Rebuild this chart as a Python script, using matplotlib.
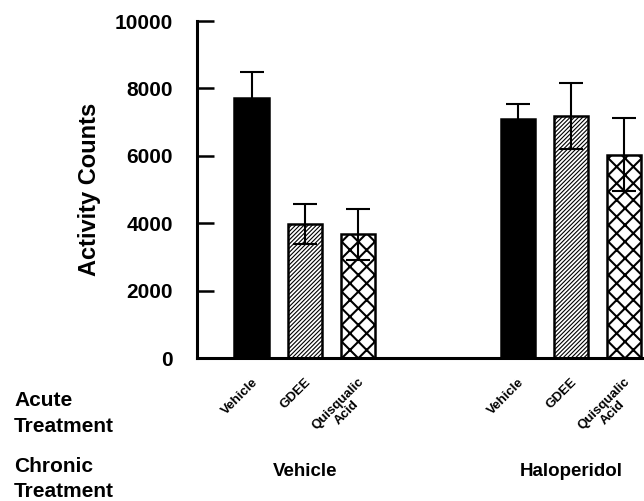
import matplotlib
matplotlib.use("Agg")
import matplotlib.pyplot as plt
import matplotlib.transforms as mtransforms

plt.rcParams['font.family'] = ['Liberation Sans', 'DejaVu Sans']
plt.rcParams['font.weight'] = 'bold'

# Data
acute_labels = ["Vehicle", "GDEE", "Quisqualic\nAcid", "Vehicle", "GDEE", "Quisqualic\nAcid"]
chronic_groups = ["Vehicle", "Haloperidol"]
means = [7720, 3970, 3670, 7100, 7190, 6030]
errors = [760, 600, 750, 440, 980, 1080]
positions = [0, 1, 2, 5, 6, 7]
hatches = [None, "////////", "xx", None, "////////", "xx"]
facecolors = ["black", "white", "white", "black", "white", "white"]
yticks = [0, 2000, 4000, 6000, 8000, 10000]

fig = plt.figure(figsize=(6.44, 5.01), dpi=100)
ax = fig.add_axes([0.3054, 0.2854, 0.6946, 0.6726])

for i, (x, m, e, h, fc) in enumerate(zip(positions, means, errors, hatches, facecolors)):
    bars = ax.bar(x, m, width=0.645, color=fc, edgecolor="black", linewidth=1.8,
                  hatch=h, zorder=2)
    for b in bars:
        if h is not None and h.startswith("/") and hasattr(b, "set_hatch_linewidth"):
            b.set_hatch_linewidth(0.8)
        elif h is not None and hasattr(b, "set_hatch_linewidth"):
            b.set_hatch_linewidth(1.5)

ax.errorbar(positions, means, yerr=errors, fmt="none", ecolor="black",
            elinewidth=1.5, capsize=8.5, capthick=1.5, zorder=3)

ax.set_xlim(-1.03, 7.37)
ax.set_ylim(0, 10000)
ax.set_yticks(yticks)
ax.set_yticklabels([str(v) for v in yticks], fontsize=15, fontweight="bold")
ax.tick_params(axis="y", direction="in", length=12, width=1.8, pad=17)

ax.set_xticks(positions)
ax.set_xticklabels(acute_labels, rotation=45, ha="right", va="top",
                   rotation_mode="anchor", fontsize=9.5, fontweight="bold",
                   multialignment="center", linespacing=1.0)
ax.tick_params(axis="x", length=0, pad=13)

ax.spines["top"].set_visible(False)
ax.spines["right"].set_visible(False)
ax.spines["left"].set_linewidth(2.2)
ax.spines["bottom"].set_linewidth(2.2)

ax.set_ylabel("Activity Counts", fontsize=17, fontweight="bold")
ax.yaxis.set_label_coords(-0.215, 0.5)

fig.text(14 / 644, 1 - 413.5 / 501, "Acute\nTreatment", fontsize=15, fontweight="bold",
         ha="left", va="center", linespacing=1.45)
fig.text(14 / 644, 1 - 479 / 501, "Chronic\nTreatment", fontsize=15, fontweight="bold",
         ha="left", va="center", linespacing=1.45)

trans = mtransforms.blended_transform_factory(ax.transData, fig.transFigure)
for gx, g in zip([1, 6], chronic_groups):
    ax.text(gx, 1 - 471 / 501, g, transform=trans, fontsize=13.5, fontweight="bold",
            ha="center", va="center")

fig.savefig("out.png", dpi=100)
